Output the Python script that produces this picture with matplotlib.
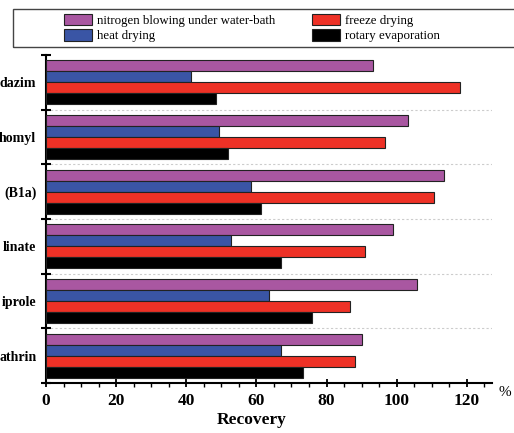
import numpy as np
import matplotlib
matplotlib.use('Agg')
import matplotlib.pyplot as plt
from matplotlib.patches import Rectangle

plt.rcParams['font.family'] = 'Liberation Serif'

# visible (cut off) compound names, top to bottom
compounds = ['dazim', 'homyl', '(B1a)', 'linate', 'iprole', 'athrin']
methods = ['nitrogen blowing under water-bath', 'heat drying', 'freeze drying', 'rotary evaporation']
colors = ['#A957A1', '#3A55A5', '#EE3126', '#000000']

# recovery (%)
nitrogen = [93.4, 103.3, 113.5, 99.1, 105.8, 90.1]
heat = [41.3, 49.4, 58.6, 52.7, 63.7, 66.9]
freeze = [118.2, 96.7, 110.6, 91.1, 86.6, 88.2]
rotary = [48.4, 51.8, 61.3, 66.9, 76.0, 73.4]
series = [nitrogen, heat, freeze, rotary]

fig = plt.figure(figsize=(5.14, 4.33), dpi=100)
ax = fig.add_axes([46/514, 50/433, 446/514, 328/433])

centers = np.arange(len(compounds)) + 0.5
h = 0.2
offs = [-0.3, -0.1, 0.1, 0.3]
for vals, c, lab, o in zip(series, colors, methods, offs):
    ax.barh(centers + o, vals, height=h, color=c, edgecolor='#222222', linewidth=0.8, label=lab, zorder=3)

for yb in range(1, len(compounds)):
    ax.axhline(yb, color='#cccccc', lw=0.8, ls=(0, (2, 2)), zorder=1)

ax.set_xlim(0, 127.2)
ax.set_ylim(len(compounds), 0)
ax.set_xticks(np.arange(0, 121, 20))
ax.set_xticks(np.arange(0, 126, 5), minor=True)
ax.set_yticks(np.arange(0, len(compounds) + 1))
ax.set_yticklabels([])
ax.set_yticks(centers, compounds, minor=True)

for s in ['top', 'right']:
    ax.spines[s].set_visible(False)
for s in ['left', 'bottom']:
    ax.spines[s].set_linewidth(1.5)

ax.tick_params(axis='x', which='major', direction='inout', length=6, width=1.3, pad=4, labelsize=12.5)
ax.tick_params(axis='x', which='minor', direction='out', length=3, width=1.0)
ax.tick_params(axis='y', which='major', direction='inout', length=7, width=1.5)
ax.tick_params(axis='y', which='minor', length=0, pad=7, labelsize=10)
for t in ax.get_xticklabels() + ax.get_yticklabels(minor=True):
    t.set_fontweight('bold')

fig.text(252/514, 1 - 424/433, 'Recovery', ha='center', va='baseline', fontsize=12.5, fontweight='bold')
fig.text(505/514, 1 - 393/433, '%', ha='center', va='center', fontsize=11)

# legend box running off the right edge
fig.patches.append(Rectangle((12.7/514, 1 - 47/433), 1.2, 37.7/433, transform=fig.transFigure,
                             fill=False, edgecolor='#444444', linewidth=1.0, clip_on=False))
fig.legend(loc='upper left', bbox_to_anchor=(64/514, 1 - 13.5/433), ncol=2, frameon=False,
           fontsize=9.3, borderpad=0, handlelength=2.17, handleheight=1.05, handletextpad=0.4,
           labelspacing=0.15, columnspacing=2.8, borderaxespad=0)

fig.savefig('out.png', dpi=100)
